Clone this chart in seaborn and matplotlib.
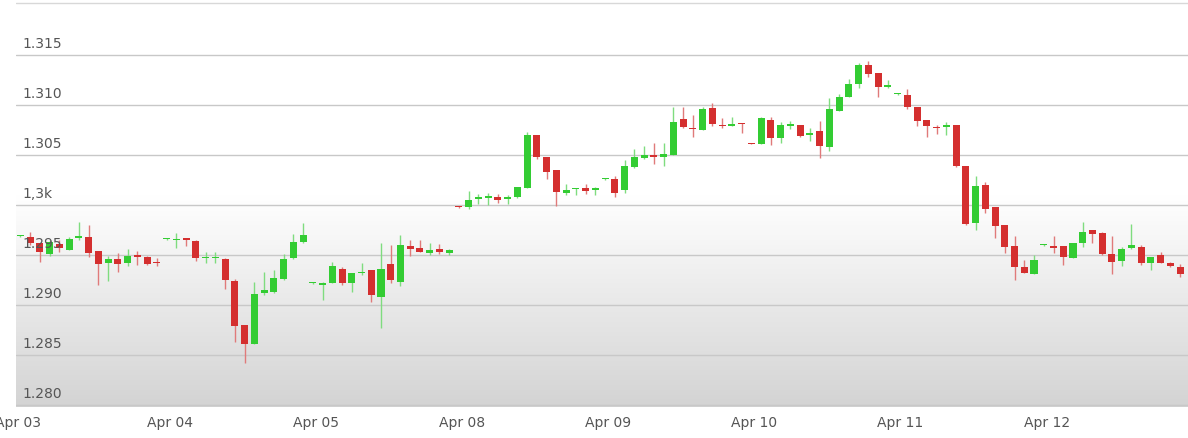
import numpy as np
import matplotlib
matplotlib.use("Agg")
import matplotlib.pyplot as plt
import seaborn as sns

opens = [1.2969,1.2968,1.2962,1.2951,1.2961,1.2955,1.2967,1.2968,1.2954,1.2942,1.2946,1.2942,1.2950,1.2948,1.2943,
 1.2966,1.2965,1.2967,1.2964,1.2947,1.2947,1.2946,1.2924,1.2880,1.2861,1.2912,1.2913,1.2926,1.2947,1.2963,
 1.2922,1.2920,1.2922,1.2936,1.2922,1.2932,1.2935,1.2908,1.2941,1.2923,1.2959,1.2957,1.2952,1.2956,1.2952,
 1.2999,1.2998,1.3006,1.3007,1.3008,1.3006,1.3008,1.3017,1.3070,1.3048,1.3035,1.3012,1.3016,1.3017,1.3015,
 1.3026,1.3026,1.3015,1.3038,1.3047,1.3050,1.3048,1.3050,1.3086,1.3077,1.3075,1.3097,1.3080,1.3079,1.3082,
 1.3062,1.3061,1.3085,1.3067,1.3079,1.3080,1.3070,1.3074,1.3058,1.3094,1.3108,1.3121,1.3140,1.3132,1.3118,
 1.3111,1.3110,1.3098,1.3085,1.3078,1.3078,1.3080,1.3039,1.2982,1.3020,1.2998,1.2980,1.2959,1.2938,1.2931,
 1.2960,1.2959,1.2959,1.2947,1.2962,1.2975,1.2972,1.2951,1.2944,1.2957,1.2958,1.2942,1.2950,1.2942,1.2938]
highs = [1.2970,1.2973,1.2962,1.2965,1.2965,1.2968,1.2983,1.2980,1.2954,1.2949,1.2952,1.2956,1.2954,1.2949,1.2947,
 1.2967,1.2972,1.2967,1.2965,1.2953,1.2953,1.2947,1.2926,1.2880,1.2923,1.2933,1.2935,1.2951,1.2971,1.2982,
 1.2923,1.2923,1.2943,1.2938,1.2932,1.2942,1.2935,1.2962,1.2960,1.2970,1.2965,1.2965,1.2962,1.2961,1.2956,
 1.2999,1.3014,1.3011,1.3012,1.3011,1.3010,1.3018,1.3073,1.3070,1.3048,1.3035,1.3021,1.3017,1.3021,1.3018,
 1.3027,1.3029,1.3045,1.3056,1.3059,1.3062,1.3062,1.3098,1.3098,1.3090,1.3098,1.3102,1.3087,1.3088,1.3082,
 1.3062,1.3088,1.3088,1.3083,1.3084,1.3080,1.3077,1.3084,1.3107,1.3111,1.3126,1.3142,1.3144,1.3132,1.3125,
 1.3112,1.3116,1.3098,1.3085,1.3080,1.3083,1.3080,1.3039,1.3029,1.3023,1.2998,1.2980,1.2969,1.2945,1.2950,
 1.2961,1.2969,1.2959,1.2962,1.2983,1.2975,1.2973,1.2969,1.2958,1.2981,1.2960,1.2948,1.2953,1.2943,1.2941]
lows = [1.2968,1.2960,1.2943,1.2949,1.2953,1.2955,1.2965,1.2948,1.2920,1.2924,1.2933,1.2939,1.2940,1.2940,1.2939,
 1.2965,1.2957,1.2959,1.2944,1.2942,1.2942,1.2916,1.2863,1.2842,1.2861,1.2910,1.2912,1.2925,1.2946,1.2962,
 1.2921,1.2905,1.2922,1.2920,1.2913,1.2930,1.2903,1.2877,1.2922,1.2919,1.2949,1.2953,1.2950,1.2951,1.2950,
 1.2997,1.2996,1.3001,1.3000,1.3002,1.3001,1.3007,1.3017,1.3046,1.3026,1.2999,1.3010,1.3010,1.3011,1.3010,
 1.3025,1.3008,1.3012,1.3037,1.3046,1.3041,1.3039,1.3050,1.3077,1.3068,1.3075,1.3079,1.3077,1.3079,1.3072,
 1.3061,1.3061,1.3060,1.3062,1.3076,1.3068,1.3064,1.3047,1.3054,1.3094,1.3108,1.3117,1.3128,1.3108,1.3117,
 1.3110,1.3096,1.3079,1.3068,1.3071,1.3070,1.3038,1.2980,1.2975,1.2992,1.2967,1.2952,1.2925,1.2932,1.2931,
 1.2959,1.2952,1.2940,1.2947,1.2958,1.2962,1.2950,1.2931,1.2939,1.2956,1.2940,1.2935,1.2942,1.2938,1.2928]
closes = [1.2969,1.2962,1.2953,1.2963,1.2957,1.2966,1.2969,1.2952,1.2941,1.2946,1.2941,1.2949,1.2948,1.2941,1.2942,
 1.2966,1.2966,1.2965,1.2947,1.2948,1.2948,1.2925,1.2879,1.2861,1.2911,1.2915,1.2927,1.2946,1.2963,1.2970,
 1.2922,1.2922,1.2939,1.2922,1.2932,1.2933,1.2910,1.2936,1.2925,1.2960,1.2956,1.2953,1.2955,1.2953,1.2955,
 1.2998,1.3005,1.3008,1.3009,1.3005,1.3008,1.3018,1.3070,1.3048,1.3033,1.3013,1.3015,1.3017,1.3014,1.3017,
 1.3026,1.3012,1.3039,1.3048,1.3050,1.3048,1.3051,1.3083,1.3078,1.3076,1.3096,1.3081,1.3079,1.3081,1.3081,
 1.3061,1.3087,1.3067,1.3080,1.3081,1.3069,1.3072,1.3059,1.3096,1.3108,1.3121,1.3140,1.3131,1.3118,1.3120,
 1.3111,1.3098,1.3084,1.3079,1.3077,1.3080,1.3039,1.2981,1.3019,1.2996,1.2979,1.2958,1.2938,1.2932,1.2945,
 1.2960,1.2957,1.2948,1.2962,1.2973,1.2971,1.2951,1.2943,1.2956,1.2960,1.2942,1.2948,1.2942,1.2939,1.2931]

day_labels = ["Apr 03", "Apr 04", "Apr 05", "Apr 08", "Apr 09", "Apr 10", "Apr 11", "Apr 12"]
y_ticks = [1.280, 1.285, 1.290, 1.295, 1.300, 1.305, 1.310, 1.315]
y_labels = ["1.280", "1.285", "1.290", "1.295", "1,3k", "1.305", "1.310", "1.315"]

sns.set_style("white")
W, H = 1188, 438
fig = plt.figure(figsize=(W/100, H/100), dpi=100)
ax = fig.add_axes([16/W, (H-407)/H, (W-16)/W, 405/H])

xmin, xmax = -0.45, 119.8
ymin, ymax = 1.2798, 1.3203
# background gradient (vertical): white at top, grey at bottom
yy = np.linspace(1, 0, 200)
frac = np.clip((0.52 - yy) / 0.52, 0, 1)
img = (1.0 - frac * 0.17).reshape(-1, 1)
ax.imshow(np.dstack([img, img, img]), extent=[xmin, xmax, ymin, ymax], aspect="auto", zorder=0)

for t in y_ticks:
    ax.axhline(t, color="#c8c8c8", lw=1, zorder=1)
ax.axhline(ymax - 0.0001, color="#d8d8d8", lw=1, zorder=1)

green, red = "#33cc33", "#d42f2f"
x = np.arange(len(opens))
o, h, l, c = map(np.array, (opens, highs, lows, closes))
up = c >= o
cols = np.where(up, green, red)
wick_cols = np.where(up, "#7fdc7f", "#e07a7a")
ax.vlines(x, l, h, colors=wick_cols, lw=1, zorder=2)
body_lo = np.minimum(o, c)
body_h = np.maximum(np.abs(c - o), 0.00012)
ax.bar(x, body_h, bottom=body_lo, width=0.72, color=cols, zorder=3, linewidth=0)

ax.set_xlim(xmin, xmax)
ax.set_ylim(ymin, ymax)
ax.set_yticks([]); ax.set_xticks([])
for t, lab in zip(y_ticks, y_labels):
    ax.text(0.2, t + 0.0004, lab, color="#555555", fontsize=10, ha="left", va="bottom", zorder=4)
for i, lab in enumerate(day_labels):
    xp = 15 * i + (0.3 if i else -0.2)
    ax.text(xp, ymin - 0.0009, lab, color="#555555", fontsize=10, ha="center", va="top", clip_on=False)
for s in ax.spines.values():
    s.set_visible(False)
fig.savefig("out.png", dpi=100)
